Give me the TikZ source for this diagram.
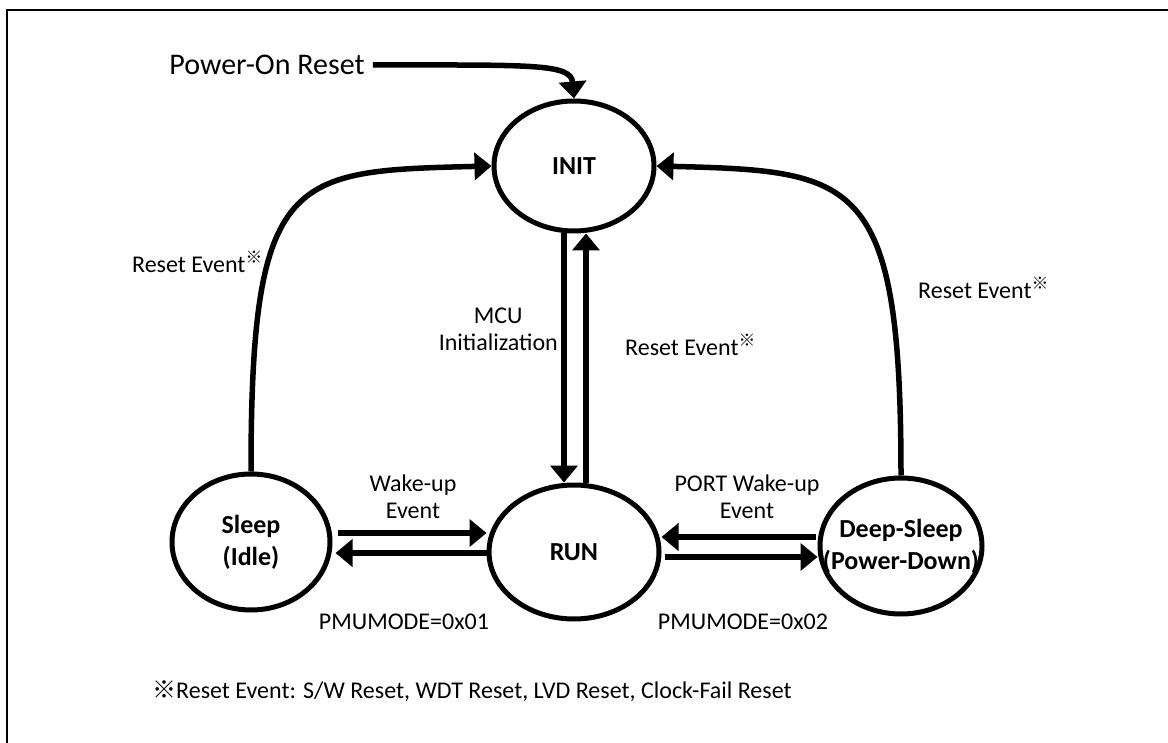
\documentclass[tikz,border=0pt]{standalone}
\usepackage{fontspec}
\setmainfont{Carlito}
\newfontfamily\cjk{Noto Sans CJK JP}
\usepackage{tikz}
\usetikzlibrary{shapes, arrows.meta}
\newcommand{\refmark}{\textsuperscript{\cjk ※}}
\tikzstyle{modo} = [draw, line width=5pt, ellipse, inner sep=-25pt, align=center, font=\fontsize{26}{32}\selectfont\bfseries]
\tikzstyle{rotulo} = [inner sep=0pt, align=center, font=\fontsize{24}{27}\selectfont]
\tikzstyle{flecha} = [line width=5.5pt, -{Triangle[length=17pt,width=27pt]}]

\begin{document}
\begin{tikzpicture}[x=1pt, y=-1pt]
	\useasboundingbox (0,0) rectangle (1168,743);
	\draw[line width=2pt] (7,10) rectangle (1200,780);
	% estados
	\node[modo, minimum width=160pt, minimum height=130pt] (init) at (574,166) {INIT};
	\node[modo, minimum width=158pt, minimum height=136pt] (sleep) at (251,542) {Sleep\\(Idle)};
	\node[modo, minimum width=170pt, minimum height=134pt] (run) at (574,552) {RUN};
	\node[modo, minimum width=162pt, minimum height=136pt] (deep) at (901,546) {Deep-Sleep\\(Power-Down)};
	% rotulos
	\node[rotulo, font=\fontsize{30}{34}\selectfont] (por) at (267,65) {Power-On Reset};
	\node[rotulo, anchor=east] (rsleep) at (263,262) {Reset Event\refmark};
	\node[rotulo, anchor=east] (mcu) at (558,329) {MCU\\Initialization};
	\node[rotulo, anchor=west] (rrun) at (625,345) {Reset Event\refmark};
	\node[rotulo, anchor=west] (rdeep) at (918,288) {Reset Event\refmark};
	\node[rotulo] (wake) at (413,497) {Wake-up\\Event};
	\node[rotulo] (portwake) at (747,497) {PORT Wake-up\\Event};
	\node[rotulo] (pmu1) at (404,622) {PMUMODE=0x01};
	\node[rotulo] (pmu2) at (743,622) {PMUMODE=0x02};
	\node[rotulo, anchor=west] (nota) at (152,691) {{\cjk ※}Reset Event: S/W Reset, WDT Reset, LVD Reset, Clock-Fail Reset};
	% transiciones
	\draw[flecha] ([xshift=8pt]por.east) .. controls +(160,0) and +(-3,-35) .. (init.north);
	\draw[flecha] (sleep.north) .. controls +(0,-300) and +(-200,5) .. (init.west);
	\draw[flecha] (deep.north) .. controls +(0,-300) and +(200,5) .. (init.east);
	\draw[flecha] ([xshift=-10pt]init.south) -- ([xshift=-10pt]run.north);
	\draw[flecha] ([xshift=12pt]run.north) -- ([xshift=12pt]init.south);
	\coordinate (s1) at ([yshift=9pt]sleep.east);
	\coordinate (s2) at ([yshift=-11pt]sleep.east);
	\coordinate (d1) at ([yshift=9pt]deep.west);
	\coordinate (d2) at ([yshift=-11pt]deep.west);
	\coordinate (r2) at (d2 -| run.east);
	\draw[flecha] ([xshift=5pt]s1) -- (s1 -| run.west);
	\draw[flecha] (s2 -| run.west) -- ([xshift=3pt]s2);
	\draw[flecha] ([xshift=-2pt]d1) -- (d1 -| run.east);
	\draw[flecha] ([xshift=3pt]r2) -- (d2);
\end{tikzpicture}
\end{document}
